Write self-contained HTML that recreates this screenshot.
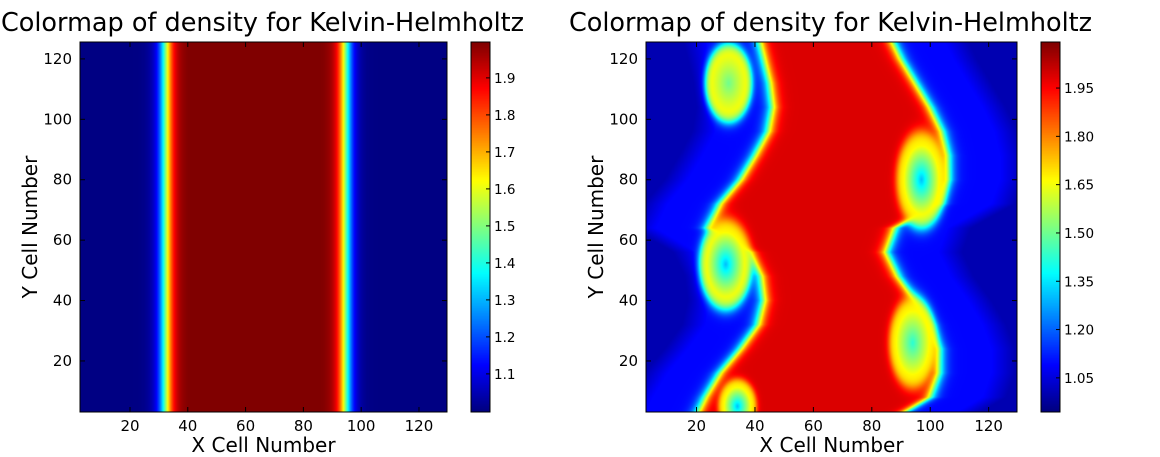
<!DOCTYPE html>
<html><head><meta charset="utf-8"><style>
html,body{margin:0;padding:0;background:#fff;width:1160px;height:457px;overflow:hidden}
#wrap{position:relative;width:1160px;height:457px}
canvas{position:absolute}
svg{position:absolute;left:0;top:0}
text{font-family:"DejaVu Sans","Liberation Sans",sans-serif;fill:#000}
</style></head><body>
<div id="wrap">
<canvas id="hm1" style="left:80px;top:42px" width="367" height="370"></canvas>
<canvas id="cb1" style="left:471px;top:42px" width="19" height="370"></canvas>
<canvas id="hm2" style="left:646px;top:42px" width="371" height="370"></canvas>
<canvas id="cb2" style="left:1041px;top:42px" width="19" height="370"></canvas>
<svg id="ov" width="1160" height="457"></svg>
</div>
<script>
// ---- data ----
const leftEdge1 = [32.3];
const rightEdge1 = [94.6];
const lowDensity = [1.0];
const highDensity = [2.0];
// Right plot
const ySamples = [0,8,16,24,32,40,48,56,64,72,80,88,96,104,112,120,128];
const coreLeftX = [19,23,28,35,41,43,42,38,24,28,35,40,44.5,46,45,43,41];
const coreRightX = [86,100,103,103,100,95,89,85,88,103,106,106,104,100,95,90,86];
const outerDensity = [1.09];
const edgeDensity = [1.0];
const coreDensity = [1.99];
const vortexCX = [31,30,34,97,94];
const vortexCY = [112,52,5,80,26];
const vortexRX = [8,9,6.5,8.5,8];
const vortexRY = [13,15,9,16,15];
const vortexCore = [1.5,1.3,1.3,1.3,1.42];
const rimDensity = [1.66];
// ticks
const xTicks = [20,40,60,80,100,120];
const yTicks = [20,40,60,80,100,120];
const cb1Ticks = [1.1,1.2,1.3,1.4,1.5,1.6,1.7,1.8,1.9];
const cb2Ticks = [1.05,1.20,1.35,1.50,1.65,1.80,1.95];
const cb1Range = [0.997,1.997];
const cb2Range = [0.944,2.093];

function jet(t){t=Math.max(0,Math.min(1,t));
 const c=v=>Math.round(255*Math.max(0,Math.min(1,v)));
 return [c(1.5-Math.abs(4*t-3)),c(1.5-Math.abs(4*t-2)),c(1.5-Math.abs(4*t-1))];}
function sig(z){return 1/(1+Math.exp(-z));}
function interp(xs,ys,x){if(x<=xs[0])return ys[0];for(let i=1;i<xs.length;i++){if(x<=xs[i]){const f=(x-xs[i-1])/(xs[i]-xs[i-1]);return ys[i-1]+f*(ys[i]-ys[i-1]);}}return ys[ys.length-1];}

const X0=2.7,X1=129.7,Y0=3.1,Y1=125.6;
function rho1(x,y){const c=sig((x-leftEdge1[0])/1.6)*sig((rightEdge1[0]-x)/1.6);return lowDensity[0]+(highDensity[0]-lowDensity[0])*c;}
function rho2(x,y){
 const L=interp(ySamples,coreLeftX,y),R=interp(ySamples,coreRightX,y);
 const c=sig((x-L)/1.3)*sig((R-x)/1.3);
 const dl=Math.max(0,x<L?L-x:x-R);
 const bg=outerDensity[0]-(outerDensity[0]-edgeDensity[0])*Math.min(1,Math.max(0,(dl-18)/8));
 let v=bg+(coreDensity[0]-bg)*c;
 for(let i=0;i<vortexCX.length;i++){
  const dx=(x-vortexCX[i])/vortexRX[i],dy=(y-vortexCY[i])/vortexRY[i];
  const r=Math.sqrt(dx*dx+dy*dy);
  const a=sig((1-r)/0.08);
  const inner=vortexCore[i]+(rimDensity[0]-vortexCore[i])*Math.min(1,r*1.4);
  v=v*(1-a)+inner*a;
 }
 return v;}
function drawHM(id,fn,rng){
 const cv=document.getElementById(id),ctx=cv.getContext('2d');
 const W=cv.width,H=cv.height,img=ctx.createImageData(W,H);
 for(let j=0;j<H;j++){const y=Y1-(j+0.5)/H*(Y1-Y0);
  for(let i=0;i<W;i++){const x=X0+(i+0.5)/W*(X1-X0);
   const col=jet((fn(x,y)-rng[0])/(rng[1]-rng[0]));const k=4*(j*W+i);
   img.data[k]=col[0];img.data[k+1]=col[1];img.data[k+2]=col[2];img.data[k+3]=255;}}
 ctx.putImageData(img,0,0);}
function drawCB(id){const cv=document.getElementById(id),ctx=cv.getContext('2d');
 for(let j=0;j<cv.height;j++){const c=jet(1-j/(cv.height-1));ctx.fillStyle=`rgb(${c})`;ctx.fillRect(0,j,cv.width,1);}}
drawHM('hm1',rho1,cb1Range);drawHM('hm2',rho2,cb2Range);drawCB('cb1');drawCB('cb2');

const NS='http://www.w3.org/2000/svg',ov=document.getElementById('ov');
function el(t,a,txt){const e=document.createElementNS(NS,t);for(const k in a)e.setAttribute(k,a[k]);if(txt!==undefined)e.textContent=txt;ov.appendChild(e);return e;}
function axes(ax,ay,aw,ah,title,cx,cw,cbTicks,cbRange,dec,p){
 const sx=v=>ax+(v-X0)/(X1-X0)*aw, sy=v=>ay+ah-(v-Y0)/(Y1-Y0)*ah;
 let e=el('rect',{x:ax,y:ay,width:aw,height:ah,fill:'none',stroke:'#000','stroke-width':1});
 
 xTicks.forEach(v=>{const x=sx(v);
  e=el('line',{x1:x,y1:ay+ah,x2:x,y2:ay+ah-5,stroke:'#000'});
  el('line',{x1:x,y1:ay,x2:x,y2:ay+5,stroke:'#000'});
  e=el('text',{x:x,y:ay+ah+19,'font-size':15,'text-anchor':'middle'},v);});
 yTicks.forEach(v=>{const y=sy(v);
  e=el('line',{x1:ax,y1:y,x2:ax+5,y2:y,stroke:'#000'});
  el('line',{x1:ax+aw,y1:y,x2:ax+aw-5,y2:y,stroke:'#000'});
  e=el('text',{x:ax-8,y:y+5,'font-size':15,'text-anchor':'end'},v);});
 e=el('text',{x:ax+aw/2-1,y:31,'font-size':25.5,'text-anchor':'middle'},title);
 e=el('text',{x:ax+aw/2,y:452,'font-size':20,'text-anchor':'middle'},'X Cell Number');
 e=el('text',{x:0,y:0,'font-size':20,'text-anchor':'middle',transform:`translate(${ax-43},${ay+ah/2}) rotate(-90)`},'Y Cell Number');
 e=el('rect',{x:cx,y:ay,width:cw,height:ah,fill:'none',stroke:'#000'});
 cbTicks.forEach(v=>{const y=ay+ah-(v-cbRange[0])/(cbRange[1]-cbRange[0])*ah;
  e=el('line',{x1:cx+cw,y1:y,x2:cx+cw-4,y2:y,stroke:'#000'});
  e=el('text',{x:cx+cw+4,y:y+5,'font-size':13.5},v.toFixed(dec));});
}
axes(80,42,367,370,'Colormap of density for Kelvin-Helmholtz',471,19,cb1Ticks,cb1Range,1,'left');
axes(646,42,371,370,'Colormap of density for Kelvin-Helmholtz',1041,19,cb2Ticks,cb2Range,2,'right');
</script>
</body></html>
